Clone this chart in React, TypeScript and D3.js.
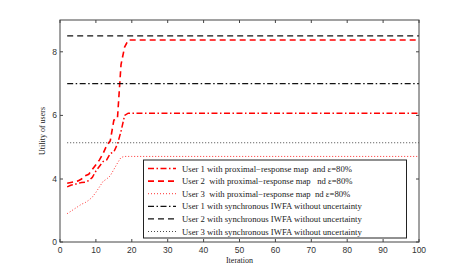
import * as d3 from "d3";

// iterations where the curves were read (the last point carries the converged value to the end)
const iterProx = [2, 3, 4, 5, 6, 7, 8, 9, 10, 11, 12, 13, 14, 15, 16, 17, 18, 19, 20, 100];
const user1Prox = [3.5, 3.6, 3.65, 3.72, 3.78, 3.8, 3.9, 4.05, 4.25, 4.4, 4.55, 4.6, 4.8, 4.85, 5.1, 5.5, 6.0, 6.07, 6.07, 6.07];
const user2Prox = [3.73, 3.78, 3.82, 3.88, 4.0, 4.1, 4.15, 4.3, 4.45, 4.6, 4.8, 5.05, 5.2, 5.85, 5.9, 7.6, 8.15, 8.37, 8.37, 8.37];
const user3Prox = [1.8, 1.95, 2.1, 2.25, 2.4, 2.5, 2.65, 2.85, 3.15, 3.5, 3.85, 4.0, 4.1, 4.3, 4.5, 4.68, 4.71, 4.71, 4.71, 4.71];

const iterSync = [2, 100];
const user1Sync = [7.0, 7.0];
const user2Sync = [8.5, 8.5];
const user3Sync = [5.14, 5.14];

const xTicks = [0, 10, 20, 30, 40, 50, 60, 70, 80, 90, 100];
const yTicks = [0, 4, 6, 8];

const legendLabels = [
  "User 1 with proximal\u2212response map  and \u03b5=80%",
  "User 2  with proximal\u2212response map   nd \u03b5=80%",
  "User 3  with proximal\u2212response map  nd \u03b5=80%",
  "User 1 with synchronous IWFA without uncertainty",
  "User 2 with synchronous IWFA without uncertainty",
  "User 3 with synchronous IWFA without uncertainty",
];

type Series = { xs: number[]; ys: number[]; color: string; dash: string; width: number };

const series: Series[] = [
  { xs: iterProx, ys: user1Prox, color: "#ff0000", dash: "6,2.5,1.5,2.5", width: 1.5 },
  { xs: iterProx, ys: user2Prox, color: "#ff0000", dash: "6,4", width: 1.6 },
  { xs: iterProx, ys: user3Prox, color: "#ff3030", dash: "1,2", width: 1 },
  { xs: iterSync, ys: user1Sync, color: "#111", dash: "6,2.5,1.5,2.5", width: 1.2 },
  { xs: iterSync, ys: user2Sync, color: "#111", dash: "6,4", width: 1.3 },
  { xs: iterSync, ys: user3Sync, color: "#333", dash: "1,2", width: 0.9 },
];

export default function App() {
  const left = 60, right = 419, top = 20, bottom = 242;

  const x = d3.scaleLinear().domain([0, 100]).range([left, right]);
  // the y axis in the figure is not uniform below 4
  const y = d3.scaleLinear().domain([0, 4, 9]).range([bottom, 179, top]);

  const line = d3.line<[number, number]>()
    .x(d => x(d[0]))
    .y(d => y(d[1]));

  const axisColor = "#444";
  const lg = { x: 143.5, y: 160, w: 263, h: 78, row: 12.6 };

  return (
    <svg width={463} height={273} style={{ position: "absolute", left: 0, top: 0, background: "#fff" }}>
      <rect x={0} y={0} width={463} height={273} fill="#fff" />

      {series.map((s, i) => (
        <path
          key={i}
          d={line(s.xs.map((v, j) => [v, s.ys[j]] as [number, number])) || ""}
          fill="none"
          stroke={s.color}
          strokeWidth={s.width}
          strokeDasharray={s.dash}
        />
      ))}

      {/* box + ticks */}
      <rect x={left} y={top} width={right - left} height={bottom - top} fill="none" stroke={axisColor} strokeWidth={1} />
      {xTicks.map(t => (
        <g key={"x" + t}>
          <line x1={x(t)} x2={x(t)} y1={bottom} y2={bottom - 3} stroke={axisColor} />
          <line x1={x(t)} x2={x(t)} y1={top} y2={top + 3} stroke={axisColor} />
          <text x={x(t)} y={253} textAnchor="middle" fontFamily="Liberation Sans, Arial, sans-serif" fontSize={8.5} fill="#333">{t}</text>
        </g>
      ))}
      {yTicks.map(t => (
        <g key={"y" + t}>
          <line x1={left} x2={left + 3} y1={y(t)} y2={y(t)} stroke={axisColor} />
          <line x1={right} x2={right - 3} y1={y(t)} y2={y(t)} stroke={axisColor} />
          <text x={57} y={y(t) + 3} textAnchor="end" fontFamily="Liberation Sans, Arial, sans-serif" fontSize={8.5} fill="#333">{t}</text>
        </g>
      ))}

      <text x={(left + right) / 2} y={263} textAnchor="middle" fontFamily="Liberation Serif, Times New Roman, serif" fontSize={8} fill="#222">Iteration</text>
      <text transform={`translate(45,${(top + bottom) / 2}) rotate(-90)`} textAnchor="middle" fontFamily="Liberation Serif, Times New Roman, serif" fontSize={8} fill="#222">Utility of users</text>

      {/* legend */}
      <rect x={lg.x} y={lg.y} width={lg.w} height={lg.h} fill="#fff" stroke="#222" strokeWidth={1} />
      {series.map((s, i) => {
        const ly = lg.y + 8.5 + i * lg.row;
        return (
          <g key={"l" + i}>
            <line x1={148} x2={176} y1={ly} y2={ly} stroke={s.color} strokeWidth={s.width} strokeDasharray={s.dash} />
            <text x={182} y={ly + 3} fontFamily="Liberation Serif, Times New Roman, serif" fontSize={8.7} fill="#222" style={{ whiteSpace: "pre" }}>{legendLabels[i]}</text>
          </g>
        );
      })}
    </svg>
  );
}
